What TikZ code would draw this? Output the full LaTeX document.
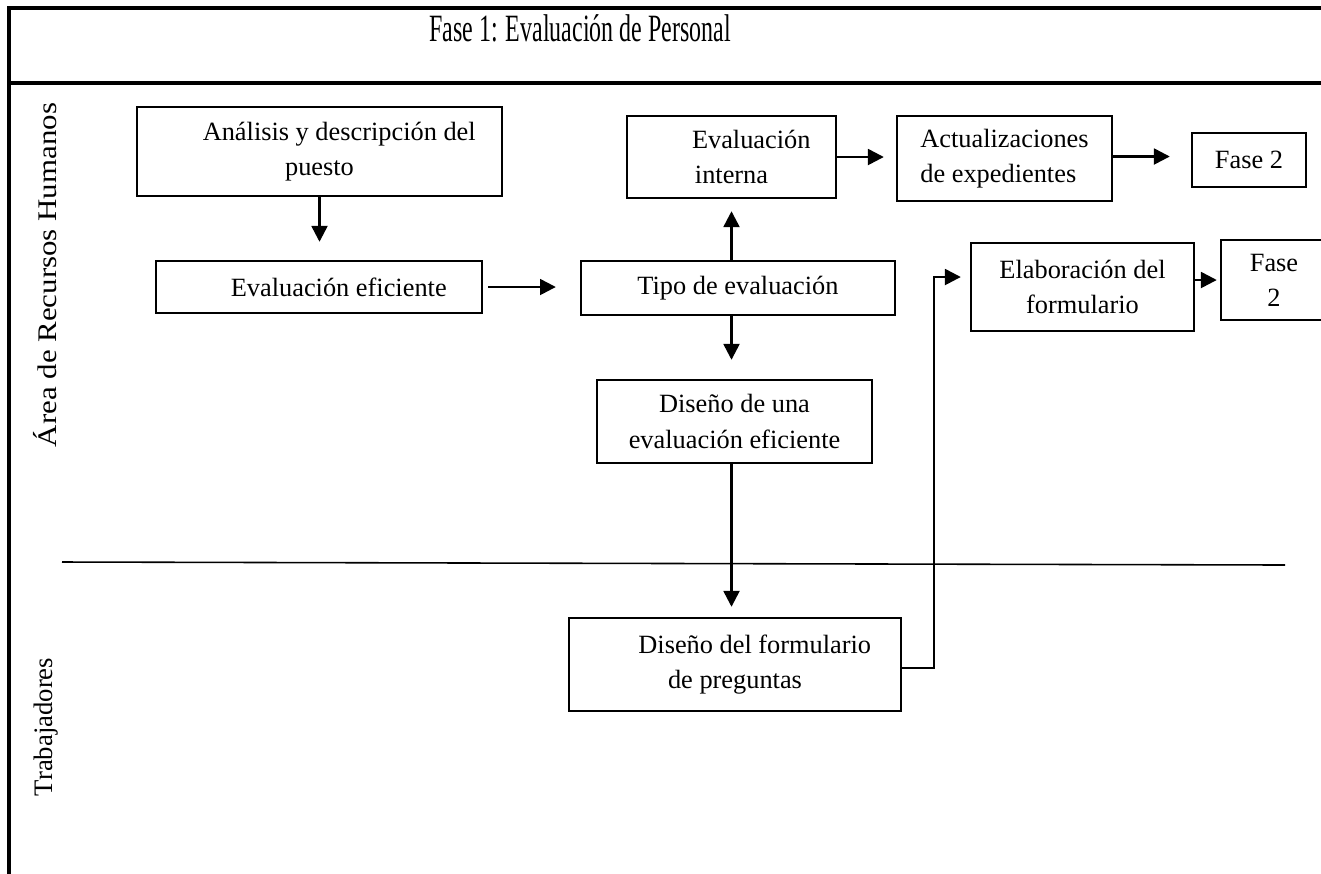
\documentclass[tikz,border=0pt]{standalone}
\usepackage{fontspec}
\setmainfont{Liberation Serif}
\newfontfamily\titlefont[FakeStretch=0.62]{Liberation Serif}
\newfontfamily\carrilfont[FakeStretch=1.15]{Liberation Serif}
\usetikzlibrary{arrows.meta}
\newcommand{\sangria}{\hspace*{1.5em}}

\begin{document}
\begin{tikzpicture}[x=0.02cm, y=-0.02cm,
  box/.style={draw, line width=1.4pt, inner sep=0pt, align=center, font=\fontsize{15}{20}\selectfont},
  flecha/.style={-{Triangle[length=9pt,width=9pt]}, line width=1.4pt},
  carril/.style={rotate=90}]
\useasboundingbox (0,0) rectangle (1321,873);
% marco y carriles
\draw[line width=2pt] (9,880) -- (9,8) -- (1330,8);
\draw[line width=2pt] (9,83) -- (1330,83);
\draw[line width=0.9pt] (62,562) -- (1285,565);
\node (T) at (580,28) {\titlefont\fontsize{22}{26}\selectfont Fase 1: Evaluación de Personal};
\node[carril, font=\carrilfont\fontsize{15.3}{18}\selectfont] (RH) at (45,275) {Área de Recursos Humanos};
\node[carril, font=\fontsize{15.2}{18}\selectfont] (TR) at (46,727) {Trabajadores};
% cajas
\node[box, minimum width=7.30cm, minimum height=1.78cm] (A) at (319.5,151.5) {\sangria Análisis y descripción del\\puesto};
\node[box, minimum width=6.52cm, minimum height=1.04cm] (B) at (319,287) {\sangria Evaluación eficiente};
\node[box, minimum width=6.28cm, minimum height=1.08cm] (C) at (738,288) {Tipo de evaluación};
\node[box, minimum width=4.18cm, minimum height=1.64cm] (D) at (731.5,157) {\sangria Evaluación\\interna};
\node[box, align=left, minimum width=4.30cm, minimum height=1.70cm] (E) at (1004.5,158.5) {Actualizaciones\\de expedientes};
\node[box, minimum width=2.28cm, minimum height=1.08cm] (F) at (1249,160) {Fase 2};
\node[box, minimum width=4.46cm, minimum height=1.76cm] (G) at (1082.5,287) {Elaboración del\\formulario};
\node[box, minimum width=2.12cm, minimum height=1.60cm] (H) at (1274,280) {Fase\\2};
\node[box, minimum width=5.50cm, minimum height=1.66cm] (J) at (734.5,421.5) {Diseño de una\\evaluación eficiente};
\node[box, minimum width=6.64cm, minimum height=1.86cm] (I) at (735,664.5) {\sangria Diseño del formulario\\de preguntas};
% flechas
\draw[flecha, shorten >=0.36cm] (A.south) -- (A.south |- B.north);
\draw[flecha, shorten <=0.1cm, shorten >=0.48cm] (B.east) -- (B.east -| C.west);
\draw[flecha, shorten >=0.24cm] (C.north -| D.south) -- (D.south);
\draw[flecha, shorten >=0.24cm] (D.east) -- (D.east -| E.west);
\draw[flecha, shorten >=0.42cm] ([yshift=0.04cm]E.east) -- ([yshift=0.04cm]E.east -| F.west);
\draw[flecha, shorten >=0.38cm] (C.south -| D.south) -- (J.north -| D.south);
\draw[flecha, shorten >=0.2cm] (J.south -| D.south) -- (I.north -| D.south);
\draw[flecha, shorten >=0.06cm] (G.east |- H.west) -- (H.west);
\draw[flecha, shorten >=0.18cm] ([yshift=-0.07cm]I.east) -- ++(32,0) |- ([yshift=0.2cm]G.west);
\end{tikzpicture}
\end{document}
